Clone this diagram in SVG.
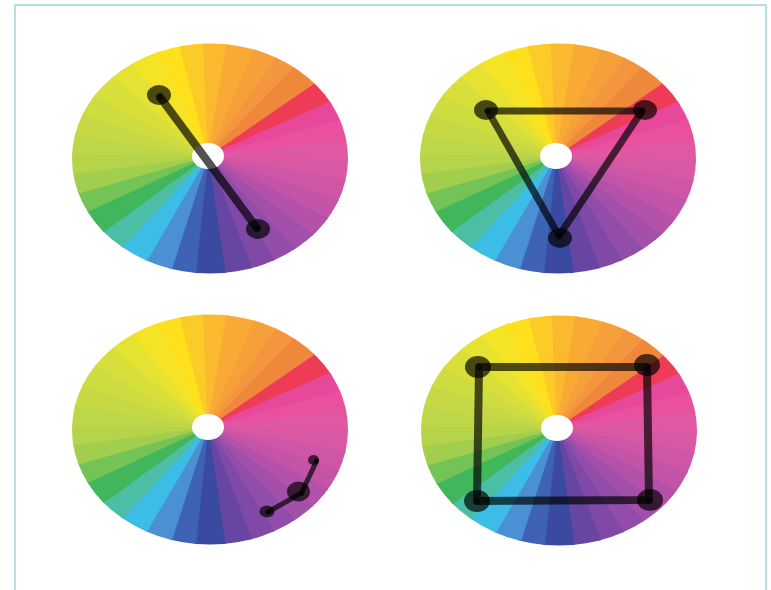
<svg xmlns="http://www.w3.org/2000/svg" width="771" height="590" viewBox="0 0 771 590">
<style>
.dot{fill:#000;fill-opacity:.68}
.core{fill:#000;fill-opacity:.55}
.link{fill:none;stroke:#000;stroke-opacity:.68;stroke-linecap:round;stroke-linejoin:round}
.wd{fill:currentColor;stroke:currentColor;stroke-width:0.9;stroke-linejoin:round}
</style>
<defs>
<polygon id="w9" class="wd" points="0,0 170,0 170,28.75"/>
<polygon id="w10" class="wd" points="0,0 170,0 170,31.82"/>
<polygon id="w11" class="wd" points="0,0 170,0 170,34.9"/>
<polygon id="w12" class="wd" points="0,0 170,0 170,38"/>
<clipPath id="ellipseClip"><ellipse cx="2" cy="2.5" rx="138" ry="115"/></clipPath>
<g id="wheel">
<g clip-path="url(#ellipseClip)">
<g transform="scale(1,0.8333)">
<use href="#w12" transform="rotate(-40)" color="#ee3b56"/>
<use href="#w10" transform="rotate(-28)" color="#e8489a"/>
<use href="#w10" transform="rotate(-18)" color="#e9519e"/>
<use href="#w10" transform="rotate(-8)" color="#e158a2"/>
<use href="#w10" transform="rotate(2)" color="#d958a4"/>
<use href="#w10" transform="rotate(12)" color="#cf56a6"/>
<use href="#w10" transform="rotate(22)" color="#c354a8"/>
<use href="#w10" transform="rotate(32)" color="#b452a9"/>
<use href="#w10" transform="rotate(42)" color="#a350aa"/>
<use href="#w10" transform="rotate(52)" color="#924dab"/>
<use href="#w10" transform="rotate(62)" color="#8049a8"/>
<use href="#w11" transform="rotate(72)" color="#6746a3"/>
<use href="#w12" transform="rotate(83)" color="#3b4aa1"/>
<use href="#w10" transform="rotate(95)" color="#3e62b4"/>
<use href="#w11" transform="rotate(105)" color="#4a90d3"/>
<use href="#w12" transform="rotate(116)" color="#3cbde6"/>
<use href="#w11" transform="rotate(128)" color="#4cbea6"/>
<use href="#w12" transform="rotate(139)" color="#41b65a"/>
<use href="#w10" transform="rotate(151)" color="#74c356"/>
<use href="#w10" transform="rotate(161)" color="#a2ce4e"/>
<use href="#w10" transform="rotate(171)" color="#b6d44a"/>
<use href="#w10" transform="rotate(181)" color="#bed748"/>
<use href="#w11" transform="rotate(191)" color="#c6d944"/>
<use href="#w11" transform="rotate(202)" color="#cfdc40"/>
<use href="#w12" transform="rotate(213)" color="#d9df3a"/>
<use href="#w11" transform="rotate(225)" color="#e6e232"/>
<use href="#w12" transform="rotate(236)" color="#f5e326"/>
<use href="#w10" transform="rotate(248)" color="#ffe01c"/>
<use href="#w10" transform="rotate(258)" color="#fdcb28"/>
<use href="#w10" transform="rotate(268)" color="#fbb930"/>
<use href="#w12" transform="rotate(278)" color="#f8aa35"/>
<use href="#w10" transform="rotate(290)" color="#f6a03a"/>
<use href="#w9" transform="rotate(300)" color="#f3963d"/>
<use href="#w11" transform="rotate(309)" color="#f0883c"/>
</g>
</g>
<ellipse cx="0" cy="0" rx="16" ry="13" fill="#fff"/>
</g>
</defs>
<rect x="0" y="0" width="771" height="590" fill="#fff"/>
<rect x="15" y="5" width="751" height="600" fill="none" stroke="#b5dfe3" stroke-width="2"/>

<g id="wheel-complementary"><use href="#wheel" transform="translate(208,156)"/></g>
<g id="wheel-triad"><use href="#wheel" transform="translate(556,156)"/></g>
<g id="wheel-analogous"><use href="#wheel" transform="translate(208,427)"/></g>
<g id="wheel-tetradic"><use href="#wheel" transform="translate(557,428)"/></g>

<g id="connectors">
<path class="link" stroke-width="8" d="M160 97 L257 228"/>
<path class="link" stroke-width="7" d="M488 111 L642 111 L559 236 Z"/>
<path class="link" stroke-width="5" d="M316.5 461 L301.5 493 L268 512"/>
<path class="link" stroke-width="8" d="M479 367 L647 367 L649 500 L477 501 Z"/>
</g>

<g id="node-c1"><ellipse class="dot" cx="159" cy="95" rx="12" ry="10"/><circle class="core" cx="160" cy="97" r="3"/></g>
<g id="node-c2"><ellipse class="dot" cx="258" cy="229" rx="12" ry="10"/><circle class="core" cx="257" cy="228" r="3"/></g>

<g id="node-t1"><ellipse class="dot" cx="486" cy="110" rx="12" ry="10"/><circle class="core" cx="488" cy="111" r="3"/></g>
<g id="node-t2"><ellipse class="dot" cx="645" cy="110" rx="12" ry="10"/><circle class="core" cx="642" cy="111" r="3"/></g>
<g id="node-t3"><ellipse class="dot" cx="560" cy="238" rx="12" ry="10"/><circle class="core" cx="559" cy="236" r="3"/></g>

<g id="node-a1"><ellipse class="dot" cx="313.5" cy="460" rx="5.5" ry="5"/><circle class="core" cx="316.5" cy="461" r="2.5"/></g>
<g id="node-a2"><ellipse class="dot" cx="298.5" cy="491.5" rx="11.5" ry="10"/><circle class="core" cx="301.5" cy="493" r="3"/></g>
<g id="node-a3"><ellipse class="dot" cx="267" cy="511.5" rx="7.5" ry="6"/><circle class="core" cx="268" cy="512" r="2.5"/></g>

<g id="node-r1"><ellipse class="dot" cx="478" cy="367" rx="13" ry="11"/><circle class="core" cx="479" cy="367" r="3"/></g>
<g id="node-r2"><ellipse class="dot" cx="647" cy="365" rx="13" ry="11"/><circle class="core" cx="647" cy="367" r="3"/></g>
<g id="node-r3"><ellipse class="dot" cx="477" cy="501" rx="13" ry="11"/><circle class="core" cx="477" cy="501" r="3"/></g>
<g id="node-r4"><ellipse class="dot" cx="650" cy="500" rx="13" ry="11"/><circle class="core" cx="649" cy="500" r="3"/></g>
</svg>
